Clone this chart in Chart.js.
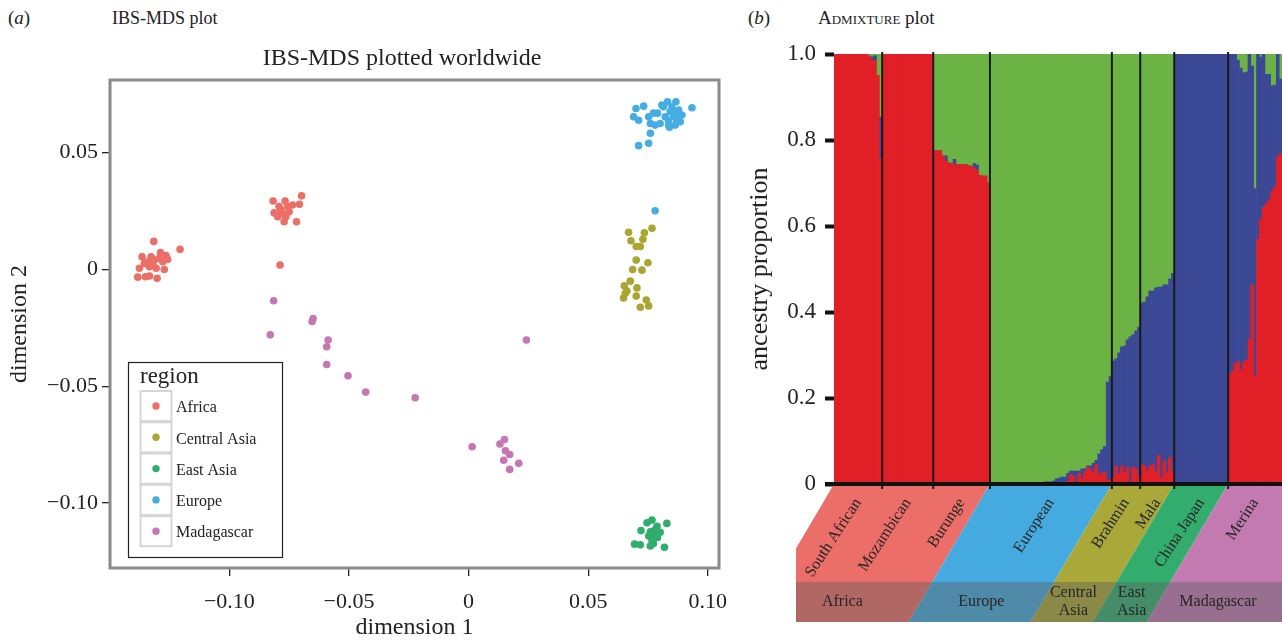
<!DOCTYPE html>
<html>
<head>
<meta charset="utf-8">
<script src="https://cdn.jsdelivr.net/npm/chart.js@4.4.1/dist/chart.umd.min.js"></script>
<style>
  body { margin: 0; background: #fff; width: 1282px; height: 640px; overflow: hidden; position: relative;
         font-family: "Liberation Serif", serif; color: #222; }
  .hd { position: absolute; top: 7px; font-size: 18px; line-height: 22px; white-space: nowrap; }
  #mds { position: absolute; left: 0; top: 0; }
  #admix { position: absolute; left: 740px; top: 0; }
</style>
</head>
<body>
<div class="hd" style="left:8px;font-size:19px">(<i>a</i>)</div>
<div class="hd" style="left:112px">IBS-MDS plot</div>
<div class="hd" style="left:748px;font-size:19px">(<i>b</i>)</div>
<div class="hd" style="left:818px;font-size:19px"><span style="font-variant:small-caps">Admixture</span> plot</div>
<canvas id="mds" width="740" height="640"></canvas>
<canvas id="admix" width="542" height="640"></canvas>
<script>
// ---- (a) IBS-MDS scatter ----
const regions = ['Africa', 'Central Asia', 'East Asia', 'Europe', 'Madagascar'];
const regionColours = ['#EB6E67', '#ABA532', '#2FAD6C', '#45ADE2', '#C676B5'];

const africaX = [-0.1316,-0.1206,-0.1365,-0.1327,-0.1288,-0.1265,-0.1258,-0.1341,-0.1313,-0.1278,-0.1376,
  -0.1334,-0.1306,-0.1272,-0.1383,-0.1351,-0.1334,-0.1302,-0.1293,-0.1355,-0.1320,
  -0.0817,-0.0767,-0.0698,-0.0707,-0.0813,-0.0785,-0.0757,-0.0736,-0.0798,-0.0771,-0.0719,-0.0778,-0.0750,-0.0792,-0.0764,
  -0.0788];
const africaY = [0.0120,0.0086,0.0054,0.0054,0.0072,0.0060,0.0043,0.0033,0.0040,0.0033,0.0005,
  0.0012,0.0005,0.0000,-0.0033,-0.0031,-0.0028,-0.0038,0.0047,0.0026,0.0019,
  0.0293,0.0293,0.0315,0.0279,0.0242,0.0254,0.0269,0.0276,0.0226,0.0204,0.0204,0.0240,0.0247,0.0269,0.0226,
  0.0019];
const centralAsiaX = [0.0767,0.0669,0.0735,0.0679,0.0729,0.0701,0.0718,0.0701,0.0750,0.0686,0.0725,
  0.0676,0.0651,0.0704,0.0662,0.0701,0.0648,0.0743,0.0718,0.0753,0.0655];
const centralAsiaY = [0.0176,0.0159,0.0157,0.0123,0.0129,0.0098,0.0098,0.0040,0.0029,0.0000,-0.0003,
  -0.0050,-0.0070,-0.0079,-0.0092,-0.0114,-0.0122,-0.0131,-0.0162,-0.0156,-0.0102];
const eastAsiaX = [0.0767,0.0746,0.0829,0.0788,0.0721,0.0801,0.0773,0.0753,0.0694,0.0718,0.0760,0.0773,
  0.0819,0.0780,0.0767,0.0790,0.0760];
const eastAsiaY = [-0.1073,-0.1084,-0.1087,-0.1099,-0.1118,-0.1125,-0.1137,-0.1141,-0.1176,-0.1179,-0.1184,-0.1173,
  -0.1189,-0.1115,-0.1159,-0.1147,-0.1123];
const europeX = [0.0780,0.0700,0.0732,0.0690,0.0711,0.0753,0.0773,0.0790,0.0808,0.0832,0.0867,0.0850,0.0878,
  0.0892,0.0934,0.0760,0.0780,0.0801,0.0836,0.0857,0.0871,0.0885,0.0840,0.0864,0.0760,0.0711,0.0753,0.0822,
  0.0843,0.0815,0.0860,0.0836,0.0871];
const europeY = [0.0251,0.0689,0.0699,0.0654,0.0639,0.0654,0.0669,0.0669,0.0704,0.0718,0.0718,0.0696,0.0682,
  0.0661,0.0692,0.0625,0.0618,0.0625,0.0639,0.0654,0.0632,0.0632,0.0609,0.0618,0.0583,0.0530,0.0540,0.0654,
  0.0676,0.0696,0.0676,0.0618,0.0654];
const madagascarX = [-0.0815,-0.0829,-0.0650,-0.0654,-0.0587,-0.0593,-0.0593,-0.0504,-0.0430,-0.0223,0.0242,
  0.0015,0.0150,0.0131,0.0154,0.0172,0.0147,0.0210,0.0172];
const madagascarY = [-0.0134,-0.0280,-0.0210,-0.0223,-0.0302,-0.0331,-0.0407,-0.0455,-0.0525,-0.0549,-0.0302,
  -0.0759,-0.0728,-0.0747,-0.0776,-0.0792,-0.0817,-0.0830,-0.0856];

const mdsXTicks = [-0.10, -0.05, 0, 0.05, 0.10];
const mdsXTickLabels = ['\u22120.10', '\u22120.05', '0', '0.05', '0.10'];
const mdsYTicks = [-0.10, -0.05, 0, 0.05];
const mdsYTickLabels = ['\u22120.10', '\u22120.05', '0', '0.05'];

// ---- (b) ADMIXTURE bars, one value per individual ----
const groups = ['South African', 'Mozambican', 'Burunge', 'European', 'Brahmin', 'Mala', 'China Japan', 'Merina'];
const groupRegion = [0, 0, 0, 1, 2, 2, 3, 4];
const bandRegions = ['Africa', 'Europe', 'Central\nAsia', 'East\nAsia', 'Madagascar'];
const bandColours = ['#EC6E69', '#44AADF', '#A9A838', '#33AD6E', '#C27AB1'];
const ancestryColours = ['#E11F27', '#3B4895', '#6CB346'];

const redSouthAfrican   = [1,1,1,1,1,1,1,1,1,1,1,1,0.995,0.985,0.985,0.95,0.756];
const blueSouthAfrican  = [0,0,0,0,0,0,0,0,0,0,0,0,0,0.008,0.011,0,0.097];
const greenSouthAfrican = [0,0,0,0,0,0,0,0,0,0,0,0,0.005,0.007,0.004,0.05,0.147];

const redMozambican   = [1,1,1,1,1,1,1,1,1,1,1,1,1,1,1,1,1,1];
const blueMozambican  = [0,0,0,0,0,0,0,0,0,0,0,0,0,0,0,0,0,0];
const greenMozambican = [0,0,0,0,0,0,0,0,0,0,0,0,0,0,0,0,0,0];

const redBurunge   = [0.775,0.775,0.775,0.763,0.751,0.747,0.745,0.743,0.743,0.743,0.743,0.743,0.740,0.738,0.735,0.730,0.718,0.716,0.716,0.700];
const blueBurunge  = [0,0,0,0,0.012,0,0,0.012,0,0,0,0,0,0,0.010,0.012,0,0,0,0];
const greenBurunge = [0.225,0.225,0.225,0.237,0.237,0.253,0.255,0.245,0.257,0.257,0.257,0.257,0.260,0.262,0.255,0.258,0.282,0.284,0.284,0.300];

const redEuropean   = [0,0,0,0,0,0,0,0,0,0,0,0,0,0,0,0,0,0,0,0,0,0,0,0,0,0,0,
  0.006,0.022,0.018,0,0.025,0.012,0.028,0.039,0.034,0.028,0.045,0.020,0.026,0.028,0.010,0.010];
const blueEuropean  = [0,0,0,0,0,0,0,0,0,0,0,0,0,0,0,0,0,0,0,0.005,0.005,0.005,0.007,0.012,0.014,0.016,0.016,
  0.019,0.008,0.012,0.030,0.005,0.023,0.008,0.003,0.008,0.020,0.010,0.050,0.054,0.059,0.227,0.240];
const greenEuropean = [1,1,1,1,1,1,1,1,1,1,1,1,1,1,1,1,1,1,1,0.995,0.995,0.995,0.993,0.988,0.986,0.984,0.984,
  0.975,0.970,0.970,0.970,0.970,0.965,0.964,0.958,0.958,0.952,0.945,0.930,0.920,0.913,0.763,0.750];

const redBrahmin   = [0.016,0.042,0.023,0.042,0.028,0.039,0.005,0.039,0.036,0.018];
const blueBrahmin  = [0.270,0.249,0.282,0.277,0.293,0.296,0.337,0.308,0.320,0.347];
const greenBrahmin = [0.714,0.709,0.695,0.681,0.679,0.665,0.658,0.653,0.644,0.635];

const redMala   = [0.045,0.042,0.030,0.042,0.045,0.028,0.067,0.014,0.053,0.026,0.062,0.030];
const blueMala  = [0.376,0.381,0.405,0.407,0.404,0.428,0.391,0.444,0.410,0.437,0.415,0.460];
const greenMala = [0.579,0.577,0.565,0.551,0.551,0.544,0.542,0.542,0.537,0.537,0.523,0.510];

const redChinaJapan   = [0,0,0,0,0,0,0,0,0,0,0,0,0,0,0,0,0,0,0];
const blueChinaJapan  = [1,1,1,1,1,1,1,1,1,1,1,1,1,1,1,1,1,1,1];
const greenChinaJapan = [0,0,0,0,0,0,0,0,0,0,0,0,0,0,0,0,0,0,0];

const redMerina   = [0.255,0.262,0.281,0.284,0.265,0.284,0.288,0.336,0.463,0.251,0.569,0.616,0.643,0.652,0.660,0.681,0.691,0.760,0.768];
const blueMerina  = [0.745,0.738,0.719,0.702,0.702,0.672,0.670,0.664,0.509,0.436,0.431,0.377,0.357,0.301,0.293,0.245,0.237,0.240,0.174];
const greenMerina = [0,0,0,0.014,0.033,0.044,0.042,0,0.028,0.313,0,0.007,0,0.047,0.047,0.074,0.072,0,0.058];

const admixYTicks = [0, 0.2, 0.4, 0.6, 0.8, 1.0];
const admixYTickLabels = ['0', '0.2', '0.4', '0.6', '0.8', '1.0'];

const redByGroup = [redSouthAfrican, redMozambican, redBurunge, redEuropean, redBrahmin, redMala, redChinaJapan, redMerina];
const blueByGroup = [blueSouthAfrican, blueMozambican, blueBurunge, blueEuropean, blueBrahmin, blueMala, blueChinaJapan, blueMerina];
const greenByGroup = [greenSouthAfrican, greenMozambican, greenBurunge, greenEuropean, greenBrahmin, greenMala, greenChinaJapan, greenMerina];

Chart.defaults.font.family = '"Liberation Serif", "Times New Roman", serif';
Chart.defaults.color = '#222';

function points(xs, ys) {
  return xs.map((x, i) => ({ x: x, y: ys[i] }));
}

// panel title sits a little left of the panel centre, so it is drawn by hand
const mdsTitle = {
  id: 'mdsTitle',
  afterDraw(chart) {
    const ctx = chart.ctx;
    ctx.save();
    ctx.fillStyle = '#222';
    ctx.font = '24px "Liberation Serif"';
    ctx.textAlign = 'center';
    ctx.textBaseline = 'middle';
    ctx.fillText('IBS-MDS plotted worldwide', 402, 59);
    ctx.restore();
  }
};

// gray frame round the plot panel
const mdsFrame = {
  id: 'mdsFrame',
  beforeDatasetsDraw(chart) {
    const a = chart.chartArea, ctx = chart.ctx;
    ctx.save();
    ctx.strokeStyle = '#8a8a8a';
    ctx.lineWidth = 3;
    ctx.strokeRect(a.left, a.top, a.right - a.left, a.bottom - a.top);
    ctx.restore();
  }
};

// boxed "region" key inside the panel, as ggplot draws it
const mdsLegend = {
  id: 'mdsLegend',
  afterDraw(chart) {
    const ctx = chart.ctx;
    const x0 = 128.5, y0 = 362.5;
    ctx.save();
    ctx.fillStyle = '#fff';
    ctx.fillRect(x0, y0, 154, 195);
    ctx.strokeStyle = '#222';
    ctx.lineWidth = 1.2;
    ctx.strokeRect(x0, y0, 154, 195);
    ctx.textBaseline = 'middle';
    ctx.fillStyle = '#222';
    ctx.font = '23px "Liberation Serif"';
    ctx.fillText('region', 140, 377);
    chart.data.datasets.forEach((ds, i) => {
      const ky = 391 + i * 31.3;
      ctx.strokeStyle = '#d6d6d6';
      ctx.lineWidth = 2;
      ctx.strokeRect(140.5, ky, 31, 30);
      ctx.fillStyle = ds.backgroundColor;
      ctx.beginPath();
      ctx.arc(156, ky + 15, 3.7, 0, Math.PI * 2);
      ctx.fill();
      ctx.fillStyle = '#222';
      ctx.font = '16px "Liberation Serif"';
      ctx.fillText(ds.label, 176, ky + 17);
    });
    ctx.restore();
  }
};

const regionPoints = [points(africaX, africaY), points(centralAsiaX, centralAsiaY), points(eastAsiaX, eastAsiaY),
  points(europeX, europeY), points(madagascarX, madagascarY)];

new Chart(document.getElementById('mds'), {
  type: 'scatter',
  data: {
    datasets: regions.map((r, i) => ({
      label: r,
      data: regionPoints[i],
      backgroundColor: regionColours[i],
      borderWidth: 0,
      pointRadius: 3.8
    }))
  },
  options: {
    responsive: false,
    animation: false,
    layout: { padding: { top: 80, left: 0, right: 21, bottom: 0 } },
    plugins: {
      legend: { display: false },
      tooltip: { enabled: false }
    },
    scales: {
      x: {
        type: 'linear', min: -0.1499, max: 0.1047,
        afterBuildTicks: s => { s.ticks = mdsXTicks.map(v => ({ value: v })); },
        afterFit: s => { s.height = 72; s.paddingLeft = 0; s.paddingRight = 0; },
        grid: { drawOnChartArea: false, tickLength: 8, color: '#222', lineWidth: 1.3 },
        border: { display: false },
        ticks: { padding: 13, font: { size: 22 }, color: '#222', callback: (v, i) => mdsXTickLabels[i] },
        title: { display: true, text: 'dimension 1', font: { size: 24, lineHeight: 1 }, color: '#222', padding: { top: 0, bottom: 0 } }
      },
      y: {
        type: 'linear', min: -0.1278, max: 0.0811,
        afterBuildTicks: s => { s.ticks = mdsYTicks.map(v => ({ value: v })); },
        afterFit: s => { s.width = 110; s.paddingTop = 0; s.paddingBottom = 0; },
        grid: { drawOnChartArea: false, tickLength: 8, color: '#222', lineWidth: 1.3 },
        border: { display: false },
        ticks: { padding: 4, font: { size: 22 }, color: '#222', callback: (v, i) => mdsYTickLabels[i] },
        title: { display: true, text: 'dimension 2', font: { size: 24, lineHeight: 1 }, color: '#222', padding: { top: 8, bottom: 0 } }
      }
    }
  },
  plugins: [mdsFrame, mdsLegend, mdsTitle]
});

// ---- (b) ----
const individuals = [];
groups.forEach((g, i) => redByGroup[i].forEach((v, j) => individuals.push(g + ' ' + (j + 1))));

// slanted population / region strips under the bars, plus separators and axis line
const admixBand = {
  id: 'admixBand',
  afterDraw(chart) {
    const ctx = chart.ctx, a = chart.chartArea, x = chart.scales.x, y = chart.scales.y;
    const y0 = y.getPixelForValue(0);
    const bandBot = y0 + 138, mid = y0 + 98;
    const slope = 0.59;
    const clipLeft = a.left - 38;
    const total = individuals.length;
    const edges = [a.left];
    let n = 0;
    groups.forEach((g, i) => {
      n += redByGroup[i].length;
      edges.push(n < total ? (x.getPixelForValue(n - 1) + x.getPixelForValue(n)) / 2 : a.right);
    });
    const last = bandRegions.length - 1;
    const regionSpan = k => {
      const gi = groupRegion.indexOf(k), gj = groupRegion.lastIndexOf(k);
      return [edges[gi], k === last ? a.right + 65 : edges[gj + 1]];
    };

    ctx.save();
    ctx.beginPath();
    ctx.rect(clipLeft, y0, chart.width - clipLeft, bandBot - y0);
    ctx.clip();
    const d = slope * (bandBot - y0);
    bandRegions.forEach((r, k) => {
      const [xl, xr0] = regionSpan(k);
      const xr = k === last ? chart.width + 120 : xr0;
      ctx.fillStyle = bandColours[k];
      ctx.beginPath();
      ctx.moveTo(xl, y0);
      ctx.lineTo(xr, y0);
      ctx.lineTo(xr - d, bandBot);
      ctx.lineTo(xl - d, bandBot);
      ctx.closePath();
      ctx.fill();
    });
    ctx.fillStyle = 'rgba(95,95,95,0.42)';
    ctx.fillRect(clipLeft, mid, chart.width, bandBot - mid);
    ctx.restore();

    // separators between populations
    ctx.save();
    ctx.strokeStyle = '#1a1a1a';
    ctx.lineWidth = 2;
    edges.slice(1, -1).forEach(ex => {
      ctx.beginPath();
      ctx.moveTo(ex, a.top - 2);
      ctx.lineTo(ex, y0 + 5);
      ctx.stroke();
    });
    // base line
    ctx.lineWidth = 4;
    ctx.strokeStyle = '#111';
    ctx.beginPath();
    ctx.moveTo(a.left - 9, y0);
    ctx.lineTo(a.right, y0);
    ctx.stroke();

    // population names, slanted
    ctx.fillStyle = '#262626';
    ctx.font = '16px "Liberation Serif"';
    ctx.textAlign = 'right';
    ctx.textBaseline = 'middle';
    groups.forEach((g, i) => {
      const cx = (edges[i] + edges[i + 1]) / 2;
      ctx.save();
      ctx.translate(cx, y0 + 16);
      ctx.rotate(-57 * Math.PI / 180);
      ctx.fillText(g, 0, 0);
      ctx.restore();
    });

    // region names in the lower strip
    ctx.textAlign = 'center';
    bandRegions.forEach((r, k) => {
      const [xl, xr] = regionSpan(k);
      const cy = mid + 20;
      const cx = (xl + xr) / 2 - slope * (cy - y0);
      const lines = r.split('\n');
      lines.forEach((t, li) => {
        ctx.fillText(t, cx, cy + (li - (lines.length - 1) / 2) * 18);
      });
    });
    ctx.restore();
  }
};

const ancestryData = [redByGroup.flat(), blueByGroup.flat(), greenByGroup.flat()];

new Chart(document.getElementById('admix'), {
  type: 'bar',
  data: {
    labels: individuals,
    datasets: ancestryData.map((vals, i) => ({
      label: ['red', 'blue', 'green'][i],
      data: vals,
      backgroundColor: ancestryColours[i],
      borderWidth: 0,
      barPercentage: 1,
      categoryPercentage: 1
    }))
  },
  options: {
    responsive: false,
    animation: false,
    layout: { padding: { top: 54, left: 0, right: 0, bottom: 0 } },
    plugins: { legend: { display: false }, tooltip: { enabled: false } },
    scales: {
      x: {
        stacked: true,
        afterFit: s => { s.height = 156; s.paddingLeft = 0; s.paddingRight = 0; },
        grid: { display: false },
        border: { display: false },
        ticks: { display: false }
      },
      y: {
        stacked: true, min: 0, max: 1,
        afterBuildTicks: s => { s.ticks = admixYTicks.map(v => ({ value: v })); },
        afterFit: s => { s.width = 94; s.paddingTop = 0; s.paddingBottom = 0; },
        grid: { drawOnChartArea: false, tickLength: 9, tickWidth: 4, tickColor: '#111' },
        border: { display: false },
        ticks: { padding: 9, font: { size: 23 }, color: '#222', callback: (v, i) => admixYTickLabels[i] },
        title: { display: true, text: 'ancestry proportion', font: { size: 26, lineHeight: 1 }, color: '#222', padding: { top: 7, bottom: 0 } }
      }
    }
  },
  plugins: [admixBand]
});
</script>
</body>
</html>
